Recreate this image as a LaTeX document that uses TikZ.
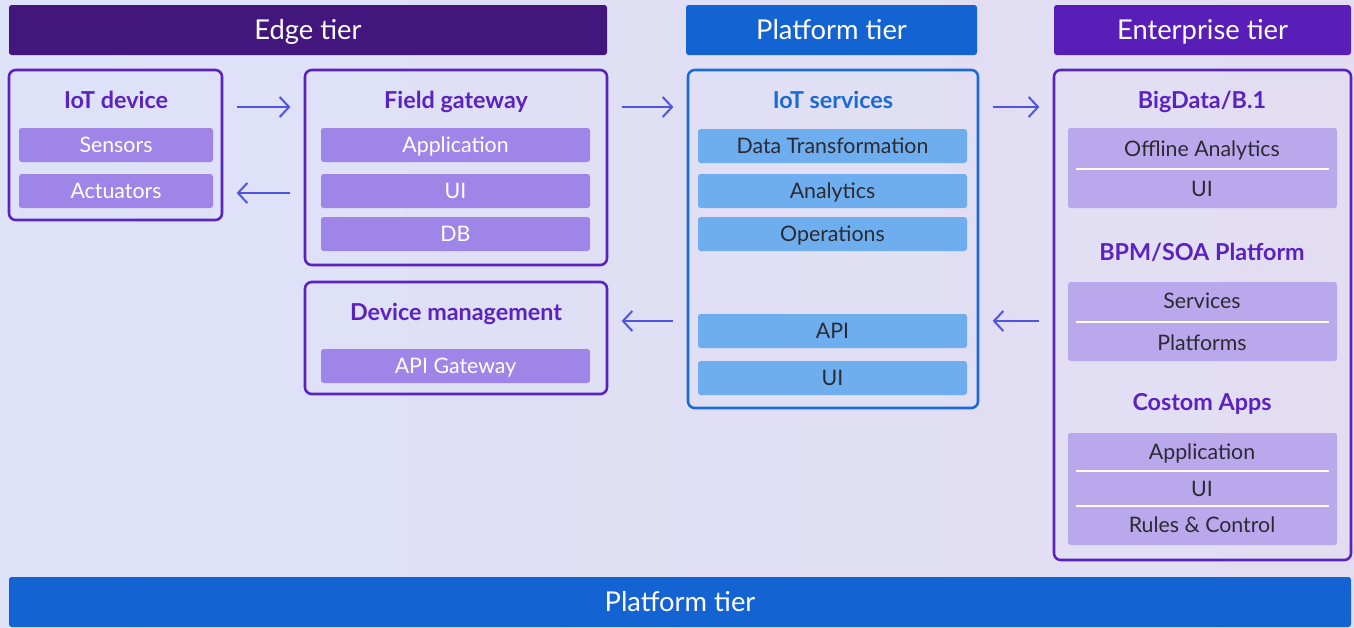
\documentclass[tikz,border=0pt]{standalone}
\usepackage{fontspec}
\setmainfont{Lato}
\usetikzlibrary{arrows.meta, positioning, fit}

\definecolor{edgec}{HTML}{42167C}
\definecolor{platc}{HTML}{1363D2}
\definecolor{entc}{HTML}{5A1EB8}
\definecolor{boxline}{HTML}{5A22C0}
\definecolor{blueline}{HTML}{1A6AD8}
\definecolor{itemc}{HTML}{A085E8}
\definecolor{blueitem}{HTML}{6EAEEE}
\definecolor{groupc}{HTML}{B9A8EC}
\definecolor{txtdark}{HTML}{2B2A33}
\definecolor{flowc}{HTML}{4F55E0}
\definecolor{bgl}{HTML}{DDE2F8}
\definecolor{bgr}{HTML}{E3DDF2}

\tikzset{
  caps/.style={text height=#1, text depth=1pt},
  header/.style={inner sep=0pt, rounded corners=2pt},
  htext/.style={caps=15.7pt, text=white, font=\fontsize{20.5}{22}\selectfont},
  panel/.style={draw=boxline, line width=1.9pt, rounded corners=5pt, inner sep=0pt},
  title/.style={caps=13.5pt, text=boxline, font=\bfseries\fontsize{17.5}{19}\selectfont},
  item/.style={fill=itemc, rounded corners=2pt, inner sep=0pt},
  itext/.style={caps=12.5pt, text=white, font=\fontsize{16}{18}\selectfont},
  bitem/.style={item, fill=blueitem},
  btext/.style={itext, text=txtdark},
  group/.style={fill=groupc, rounded corners=2pt, inner sep=0pt},
  gtext/.style={caps=12.5pt, text=txtdark, font=\fontsize{16}{18}\selectfont},
  flow/.style={draw=flowc, line width=1.5pt, shorten <=10pt, shorten >=10pt,
    -{Straight Barb[length=7pt,width=15pt,line width=1.5pt]}},
}

\begin{document}
\begin{tikzpicture}[x=0.75pt, y=-0.75pt]
% background
\shade[left color=bgl, right color=bgr] (0,0) rectangle (1354,628);

% tier headers
\node[header, fill=edgec, fit={(9,5) (607,55)}, label={[htext]center:Edge tier}] (edge) {};
\node[header, fill=platc, fit={(686,5) (977,55)}, label={[htext]center:Platform tier}] (plat) {};
\node[header, fill=entc, fit={(1054,5) (1351,55)}, label={[htext]center:Enterprise tier}] (ent) {};
\node[header, fill=platc, fit={(9,577) (1351,627)}, label={[htext]center:Platform tier}] (base) {};

% edge tier
\node[panel, fit={(9,70) (222,220)}] (dev) {};
\node[title] (devt) at (116,100) {IoT device};
\node[item, fit={(19,128) (213,162)}, label={[itext]center:Sensors}] (sens) {};
\node[item, fit={(19,174) (213,208)}, label={[itext]center:Actuators}] (act) {};

\node[panel, fit={(305,70) (607,265)}] (fgw) {};
\node[title] (fgwt) at (456,100) {Field gateway};
\node[item, fit={(321,128) (590,162)}, label={[itext]center:Application}] (fapp) {};
\node[item, fit={(321,174) (590,208)}, label={[itext]center:UI}] (fui) {};
\node[item, fit={(321,217) (590,251)}, label={[itext]center:DB}] (fdb) {};

\node[panel, fit={(305,282) (607,394)}] (dm) {};
\node[title] (dmt) at (456,312) {Device management};
\node[item, fit={(321,349) (590,383)}, label={[itext]center:API Gateway}] (apigw) {};

% platform tier
\node[panel, draw=blueline, fit={(688,70) (978,408)}] (svc) {};
\node[title, text=blueline] (svct) at (833,100) {IoT services};
\node[bitem, fit={(698,129) (967,163)}, label={[btext]center:Data Transformation}] (dtr) {};
\node[bitem, fit={(698,174) (967,208)}, label={[btext]center:Analytics}] (ana) {};
\node[bitem, fit={(698,217) (967,251)}, label={[btext]center:Operations}] (ops) {};
\node[bitem, fit={(698,314) (967,348)}, label={[btext]center:API}] (api) {};
\node[bitem, fit={(698,361) (967,395)}, label={[btext]center:UI}] (sui) {};

% enterprise tier
\node[panel, fit={(1054,70) (1351,560)}] (entp) {};
\node[title] (bdt) at (1202,100) {BigData/B.1};
\node[group, fit={(1068,128) (1337,208)}] (bd) {};
\draw[white, line width=0.8pt] (1076,169) -- (1329,169);
\node[gtext] (offl) at (1202,149) {Offline Analytics};
\node[gtext] (bdui) at (1202,189) {UI};

\node[title] (bpmt) at (1202,252) {BPM/SOA Platform};
\node[group, fit={(1068,282) (1337,361)}] (bpm) {};
\draw[white, line width=0.8pt] (1076,322) -- (1329,322);
\node[gtext] (serv) at (1202,301) {Services};
\node[gtext] (plfs) at (1202,343) {Platforms};

\node[title] (cat) at (1202,402) {Costom Apps};
\node[group, fit={(1068,433) (1337,545)}] (capp) {};
\draw[white, line width=0.8pt] (1076,471) -- (1329,471);
\draw[white, line width=0.8pt] (1076,506) -- (1329,506);
\node[gtext] (capl) at (1202,452) {Application};
\node[gtext] (caui) at (1202,489) {UI};
\node[gtext] (rules) at (1202,525) {Rules \& Control};

% flows
\draw[flow] (dev.east |- 0,107) -- (fgw.west |- 0,107);
\draw[flow] (fgw.west |- 0,193) -- (dev.east |- 0,193);
\draw[flow] (fgw.east |- 0,107) -- (svc.west |- 0,107);
\draw[flow] (svc.west |- 0,321) -- (dm.east |- 0,321);
\draw[flow] (svc.east |- 0,107) -- (entp.west |- 0,107);
\draw[flow] (entp.west |- 0,321) -- (svc.east |- 0,321);
\end{tikzpicture}
\end{document}
